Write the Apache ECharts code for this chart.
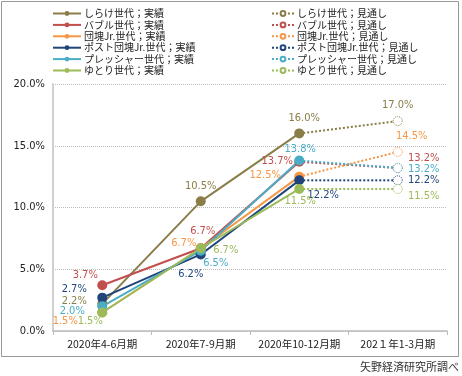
<!DOCTYPE html>
<html>
<head>
<meta charset="utf-8">
<script src="https://cdn.jsdelivr.net/npm/echarts@6/dist/echarts.min.js"></script>
<style>
html, body { margin: 0; padding: 0; background: #fff; }
#main { width: 462px; height: 376px; }
</style>
</head>
<body>
<div id="main"></div>
<script>
var categories = ['2020年4-6月期', '2020年7-9月期', '2020年10-12月期', '202１年1-3月期'];
var generations = ['しらけ世代', 'バブル世代', '団塊Jr.世代', 'ポスト団塊Jr.世代', 'プレッシャー世代', 'ゆとり世代'];
var colors = ['#8a7d48', '#c0504d', '#f79646', '#1f457a', '#4bacc6', '#9bbb59'];

// 実績 (first three quarters)
var shirake = [2.2, 10.5, 16.0];
var bubble = [3.7, 6.7, 13.7];
var dankaiJr = [1.5, 6.7, 12.5];
var postDankaiJr = [2.7, 6.2, 12.2];
var pressure = [2.0, 6.5, 13.8];
var yutori = [1.5, 6.7, 11.5];
var actuals = [shirake, bubble, dankaiJr, postDankaiJr, pressure, yutori];

// 見通し (2021年1-3月期)
var outlook = [17.0, 13.2, 14.5, 12.2, 13.2, 11.5];

var yTicks = [0, 5, 10, 15, 20];

// label offsets from the point, per series and category
var labelOffsets = [
    [[-28, -3], [0, -15], [5, -15], [0, -16]],
    [[-17, -10], [2, -17], [-22, -1], [26, -10]],
    [[-37, 9], [-17, -5], [-34, -1], [14, -16]],
    [[-28, -9], [-10, 20], [24, 15], [26, 0]],
    [[-30, 5], [15, 12], [1, -11], [26, 1]],
    [[-12, 9], [25, 2], [1, 12], [26, 7]]
];

var labelFont = 'DejaVu Sans Condensed';

function pct(v) {
    return v.toFixed(1) + '%';
}

var series = [];
var actualNames = [];
var outlookNames = [];
for (var i = 0; i < generations.length; i++) {
    var name1 = generations[i] + '；実績';
    var name2 = generations[i] + '；見通し';
    actualNames.push(name1);
    outlookNames.push(name2);
    var d1 = [];
    for (var j = 0; j < actuals[i].length; j++) {
        d1.push({
            value: actuals[i][j],
            label: { offset: labelOffsets[i][j] }
        });
    }
    series.push({
        name: name1,
        type: 'line',
        color: colors[i],
        symbol: 'circle',
        symbolSize: 10,
        z: 3,
        lineStyle: { width: 2, color: colors[i] },
        itemStyle: { color: colors[i] },
        label: {
            show: true,
            position: 'inside',
            color: colors[i],
            fontSize: 11,
            fontFamily: labelFont,
            formatter: function (p) { return pct(p.value); }
        },
        data: d1
    });
    var last = actuals[i][actuals[i].length - 1];
    series.push({
        name: name2,
        type: 'line',
        color: colors[i],
        symbol: 'circle',
        symbolSize: 9,
        z: 2,
        lineStyle: { width: 2, type: 'dotted', color: colors[i] },
        itemStyle: { color: '#fff', borderColor: colors[i], borderWidth: 1, borderType: 'dotted' },
        label: {
            show: true,
            position: 'inside',
            color: colors[i],
            fontSize: 11,
            fontFamily: labelFont,
            formatter: function (p) { return pct(p.value); }
        },
        data: [null, null,
            { value: last, symbol: 'none', label: { show: false } },
            { value: outlook[i], label: { offset: labelOffsets[i][3] } }]
    });
}

var legendText = { fontSize: 10, lineHeight: 11, color: '#222', fontFamily: 'Noto Sans CJK JP', padding: [0, 0, 0, -2] };

var chart = echarts.init(document.getElementById('main'));
chart.setOption({
    animation: false,
    backgroundColor: '#fff',
    textStyle: { fontFamily: 'Noto Sans CJK JP' },
    grid: { left: 53, right: 15, top: 84, bottom: 45, containLabel: false },
    legend: [{
        orient: 'vertical',
        left: 47,
        top: 3,
        padding: 5,
        itemWidth: 28,
        itemHeight: 6,
        itemGap: 0.4,
        textStyle: legendText,
        data: actualNames
    }, {
        orient: 'vertical',
        left: 266,
        top: 3,
        padding: 5,
        itemWidth: 22,
        itemHeight: 6,
        itemGap: 0.4,
        textStyle: legendText,
        data: outlookNames
    }],
    xAxis: {
        type: 'category',
        data: categories,
        boundaryGap: true,
        axisLine: { lineStyle: { color: '#bbb', width: 1.5 } },
        axisTick: { show: true, length: 4, lineStyle: { color: '#bbb' } },
        axisLabel: { interval: 0, color: '#222', fontSize: 10.5, margin: 8, fontFamily: 'Noto Sans CJK JP' }
    },
    yAxis: {
        type: 'value',
        min: yTicks[0],
        max: yTicks[yTicks.length - 1],
        interval: 5,
        axisLine: { show: true, lineStyle: { color: '#d0d0d0', width: 2 } },
        axisTick: { show: false },
        axisLabel: {
            color: '#222',
            fontSize: 11,
            margin: 8,
            fontFamily: labelFont,
            formatter: function (v) { return pct(v); }
        },
        splitLine: { lineStyle: { color: '#bbb', type: 'dotted' } }
    },
    graphic: [{
        type: 'rect',
        shape: { x: 1.5, y: 1.5, width: 457, height: 355 },
        style: { fill: 'none', stroke: '#999', lineWidth: 1 },
        silent: true,
        z: -1
    }, {
        type: 'text',
        right: 3,
        top: 361,
        style: { text: '矢野経済研究所調べ', fill: '#333', font: '11px "Noto Sans CJK JP"' }
    }],
    series: series
});
</script>
</body>
</html>
